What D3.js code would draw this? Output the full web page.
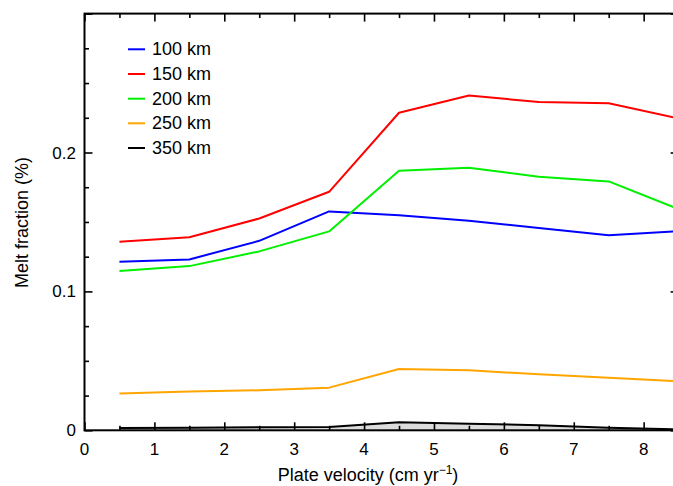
<!DOCTYPE html>
<html>
<head>
<meta charset="utf-8">
<script src="https://cdn.jsdelivr.net/npm/d3@7"></script>
<style>
  html, body { margin: 0; padding: 0; background: #fff; }
  svg { display: block; }
  text { font-family: "Liberation Sans", Arial, Helvetica, sans-serif; fill: #000; }
</style>
</head>
<body>
<svg id="chart" width="673" height="486"></svg>
<script>
// ---- data ----
const velocities = [0.5, 1.5, 2.5, 3.5, 4.5, 5.5, 6.5, 7.5, 8.5];
const seriesNames = ["100 km", "150 km", "200 km", "250 km", "350 km"];
const seriesColors = ["#0000ff", "#ff0000", "#00f000", "#ffa500", "#000000"];
const melt100 = [0.1213, 0.1230, 0.1364, 0.1576, 0.1548, 0.1509, 0.1456, 0.1405, 0.1434];
const melt150 = [0.1357, 0.1390, 0.1525, 0.1717, 0.2286, 0.2411, 0.2363, 0.2354, 0.2245];
const melt200 = [0.1146, 0.1182, 0.1288, 0.1432, 0.1868, 0.1890, 0.1825, 0.1792, 0.1593];
const melt250 = [0.0265, 0.0280, 0.0288, 0.0307, 0.0441, 0.0432, 0.0403, 0.0379, 0.0353];
const melt350 = [0.0017, 0.0019, 0.0022, 0.0024, 0.0058, 0.0048, 0.0036, 0.0019, 0.0006];
const xTickLabels = ["0", "1", "2", "3", "4", "5", "6", "7", "8"];
const yTickValues = [0, 0.1, 0.2];
const yTickLabels = ["0", "0.1", "0.2"];

const allSeries = [melt100, melt150, melt200, melt250, melt350];

// ---- layout ----
const svg = d3.select("#chart");
const plotLeft = 84.5, plotRight = 678.6, plotTop = 13.6, plotBottom = 430.3;

const x = d3.scaleLinear().domain([0, 8.5]).range([plotLeft, plotRight]);
const y = d3.scaleLinear().domain([0, 0.3]).range([plotBottom, plotTop]);

// faint grey band under the 350 km curve
svg.append("path")
  .datum(melt350)
  .attr("fill", "#dcdcdc")
  .attr("d", d3.area().x((d, i) => x(velocities[i])).y0(y(0)).y1(d => y(d)));

// lines
const line = d3.line().x((d, i) => x(velocities[i])).y(d => y(d));
allSeries.forEach((s, k) => {
  svg.append("path")
    .datum(s)
    .attr("fill", "none")
    .attr("stroke", seriesColors[k])
    .attr("stroke-width", 2)
    .attr("stroke-linejoin", "round")
    .attr("d", line);
});

// ---- axes (inward ticks on all four sides) ----
const xMajor = d3.range(0, 9, 1);
const xMinor = d3.range(0.5, 8.5, 1);
const yMajor = [0, 0.1, 0.2, 0.3];
const yMinor = [0.025, 0.05, 0.075, 0.125, 0.15, 0.175, 0.225, 0.25, 0.275];

function tickAxis(g, axis) {
  g.call(axis);
  g.select(".domain").remove();
  g.selectAll(".tick line").attr("stroke", "#000").attr("stroke-width", 1.6);
  g.selectAll(".tick text").remove();
}

// bottom
svg.append("g").attr("transform", `translate(0,${plotBottom})`)
  .call(g => tickAxis(g, d3.axisTop(x).tickValues(xMajor).tickSize(8)));
svg.append("g").attr("transform", `translate(0,${plotBottom})`)
  .call(g => tickAxis(g, d3.axisTop(x).tickValues(xMinor).tickSize(4.5)));
// top
svg.append("g").attr("transform", `translate(0,${plotTop})`)
  .call(g => tickAxis(g, d3.axisBottom(x).tickValues(xMajor).tickSize(8)));
svg.append("g").attr("transform", `translate(0,${plotTop})`)
  .call(g => tickAxis(g, d3.axisBottom(x).tickValues(xMinor).tickSize(4.5)));
// left
svg.append("g").attr("transform", `translate(${plotLeft},0)`)
  .call(g => tickAxis(g, d3.axisRight(y).tickValues(yMajor).tickSize(8)));
svg.append("g").attr("transform", `translate(${plotLeft},0)`)
  .call(g => tickAxis(g, d3.axisRight(y).tickValues(yMinor).tickSize(4.5)));
// right
svg.append("g").attr("transform", `translate(${plotRight},0)`)
  .call(g => tickAxis(g, d3.axisLeft(y).tickValues(yMajor).tickSize(8)));
svg.append("g").attr("transform", `translate(${plotRight},0)`)
  .call(g => tickAxis(g, d3.axisLeft(y).tickValues(yMinor).tickSize(4.5)));

// frame
svg.append("rect")
  .attr("x", plotLeft).attr("y", plotTop)
  .attr("width", plotRight - plotLeft).attr("height", plotBottom - plotTop)
  .attr("fill", "none").attr("stroke", "#000").attr("stroke-width", 2);

// tick labels
svg.append("g").selectAll("text")
  .data(xTickLabels)
  .join("text")
  .attr("x", (d, i) => x(i))
  .attr("y", 455)
  .attr("text-anchor", "middle")
  .attr("font-size", 17)
  .text(d => d);

svg.append("g").selectAll("text")
  .data(yTickValues)
  .join("text")
  .attr("x", 76)
  .attr("y", d => y(d) + 6)
  .attr("text-anchor", "end")
  .attr("font-size", 17)
  .text((d, i) => yTickLabels[i]);

// axis titles
const xt = svg.append("text")
  .attr("x", 368).attr("y", 481)
  .attr("text-anchor", "middle")
  .attr("font-size", 18);
xt.append("tspan").text("Plate velocity (cm yr");
xt.append("tspan").attr("font-size", 12).attr("dy", -7).text("\u22121");
xt.append("tspan").attr("dy", 7).text(")");

svg.append("text")
  .attr("transform", "translate(28,222.5) rotate(-90)")
  .attr("text-anchor", "middle")
  .attr("font-size", 18)
  .text("Melt fraction (%)");

// legend
const legendY = [49.3, 74, 98.7, 123.3, 148];
const lg = svg.append("g");
seriesNames.forEach((name, k) => {
  lg.append("line")
    .attr("x1", 128).attr("x2", 145)
    .attr("y1", legendY[k]).attr("y2", legendY[k])
    .attr("stroke", seriesColors[k]).attr("stroke-width", 2);
  lg.append("text")
    .attr("x", 152).attr("y", legendY[k] + 6)
    .attr("font-size", 18)
    .text(name);
});
</script>
</body>
</html>
